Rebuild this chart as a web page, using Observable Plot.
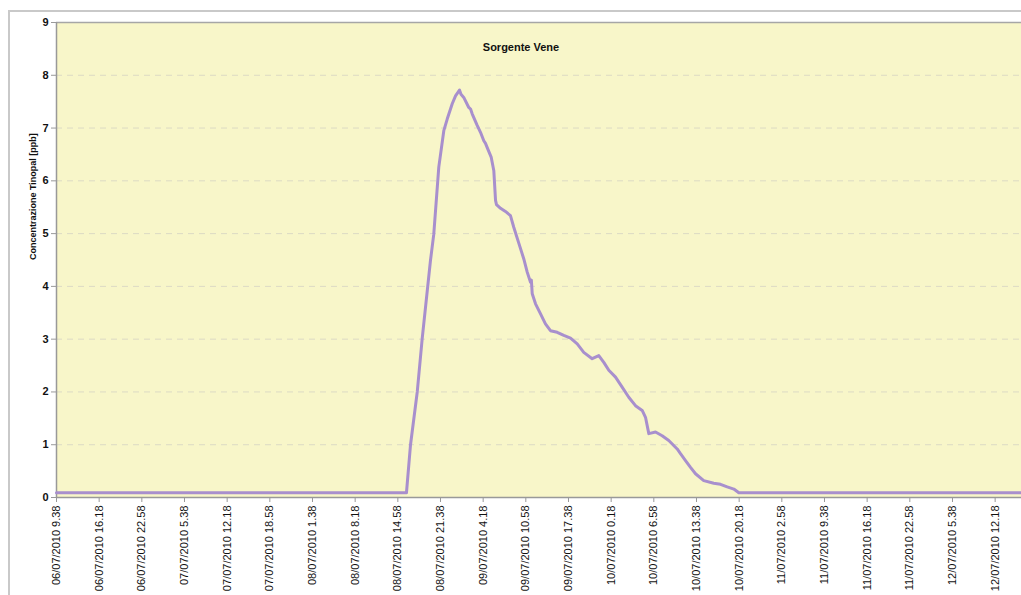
<!DOCTYPE html>
<html>
<head>
<meta charset="utf-8">
<script src="https://cdn.jsdelivr.net/npm/d3@7"></script>
<script src="https://cdn.jsdelivr.net/npm/@observablehq/plot@0.6"></script>
<style>
  html, body { margin: 0; padding: 0; background: #fff; overflow: hidden; }
  #wrap { position: relative; width: 1021px; height: 595px; }
  #border { position: absolute; left: 8px; top: 10px; width: 1100px; height: 700px;
            border-top: 2px solid #c9c9c9; border-left: 2px solid #c9c9c9; pointer-events: none; }
  svg { position: absolute; left: 0; top: 0; }
</style>
</head>
<body>
<div id="wrap"><div id="border"></div></div>
<script>
// ---- data ----
const title = "Sorgente Vene";
const yLabel = "Concentrazione Tinopal [ppb]";

const times = [
  "2010-07-06 09:38","2010-07-08 16:19","2010-07-08 16:57","2010-07-08 18:00","2010-07-08 18:46",
  "2010-07-08 20:04","2010-07-08 20:35","2010-07-08 21:22","2010-07-08 22:09",
  "2010-07-08 22:41","2010-07-08 23:28","2010-07-08 23:59","2010-07-09 00:36","2010-07-09 00:50",
  "2010-07-09 01:16","2010-07-09 02:03","2010-07-09 02:20","2010-07-09 02:35","2010-07-09 03:22",
  "2010-07-09 03:53","2010-07-09 04:24","2010-07-09 04:40","2010-07-09 04:56","2010-07-09 05:33",
  "2010-07-09 05:58","2010-07-09 06:14","2010-07-09 06:23","2010-07-09 07:01","2010-07-09 07:47",
  "2010-07-09 08:34","2010-07-09 09:05","2010-07-09 09:52","2010-07-09 10:39","2010-07-09 11:11",
  "2010-07-09 11:42","2010-07-09 11:50","2010-07-09 11:58","2010-07-09 12:29","2010-07-09 13:16",
  "2010-07-09 14:02","2010-07-09 14:49","2010-07-09 15:52","2010-07-09 16:54","2010-07-09 17:57",
  "2010-07-09 19:00","2010-07-09 20:01","2010-07-09 21:20","2010-07-09 22:22","2010-07-09 23:09",
  "2010-07-09 23:56","2010-07-10 00:59","2010-07-10 02:01","2010-07-10 03:03","2010-07-10 04:06",
  "2010-07-10 05:09","2010-07-10 05:40","2010-07-10 06:11","2010-07-10 07:14","2010-07-10 08:16",
  "2010-07-10 09:18","2010-07-10 10:37","2010-07-10 11:08","2010-07-10 11:55","2010-07-10 12:42",
  "2010-07-10 13:29","2010-07-10 14:46","2010-07-10 16:20","2010-07-10 17:23","2010-07-10 18:26",
  "2010-07-10 19:28","2010-07-10 20:15","2010-07-12 16:25"
];
const values = [
  0.09,0.09,1.00,2.00,3.00,
  4.49,4.99,6.26,6.95,
  7.17,7.46,7.61,7.72,7.64,
  7.58,7.39,7.36,7.27,7.05,
  6.92,6.76,6.71,6.63,6.45,
  6.19,5.63,5.55,5.48,5.42,
  5.34,5.12,4.82,4.52,4.27,
  4.08,4.12,3.86,3.67,3.48,
  3.29,3.16,3.13,3.07,3.02,
  2.91,2.75,2.63,2.69,2.56,
  2.41,2.28,2.09,1.90,1.74,
  1.65,1.52,1.21,1.24,1.17,
  1.08,0.92,0.83,0.70,0.57,
  0.45,0.32,0.27,0.25,0.20,
  0.16,0.09,0.09
];
const xTickLabels = [
  "06/07/2010 9.38","06/07/2010 16.18","06/07/2010 22.58","07/07/2010 5.38","07/07/2010 12.18",
  "07/07/2010 18.58","08/07/2010 1.38","08/07/2010 8.18","08/07/2010 14.58","08/07/2010 21.38",
  "09/07/2010 4.18","09/07/2010 10.58","09/07/2010 17.38","10/07/2010 0.18","10/07/2010 6.58",
  "10/07/2010 13.38","10/07/2010 20.18","11/07/2010 2.58","11/07/2010 9.38","11/07/2010 16.18",
  "11/07/2010 22.58","12/07/2010 5.38","12/07/2010 12.18"
];
const yTicks = [0,1,2,3,4,5,6,7,8,9];
const xDomainLabels = ["06/07/2010 9.38", "12/07/2010 16.25"];

// ---- build ----
const parseT = d3.timeParse("%Y-%m-%d %H:%M");
const parseL = d3.timeParse("%d/%m/%Y %H.%M");
const data = times.map((t, i) => ({date: parseT(t), value: values[i]}));
const tickDates = xTickLabels.map(parseL);
const labelFor = d => xTickLabels[tickDates.findIndex(t => +t === +d)];

const font = "'Liberation Sans', Arial, sans-serif";
const chart = Plot.plot({
  width: 1021,
  height: 595,
  marginLeft: 56,
  marginRight: 0,
  marginTop: 22,
  marginBottom: 98,
  style: {fontFamily: font, background: "transparent", overflow: "visible"},
  x: {type: "time", domain: xDomainLabels.map(parseL)},
  y: {domain: [0, 9]},
  marks: [
    Plot.frame({fill: "#f8f6c9", stroke: "none"}),
    Plot.gridY(yTicks.filter(v => v > 0 && v < 9), {stroke: "#dcdac4", strokeOpacity: 1, strokeDasharray: "6,5", strokeWidth: 1}),
    Plot.ruleY([9], {stroke: "#a6a6a6", strokeWidth: 1.5}),
    Plot.ruleY([0], {stroke: "#999", strokeWidth: 1.5}),
    Plot.ruleX([parseL(xDomainLabels[0])], {stroke: "#999", strokeWidth: 1.5}),
    Plot.line(data, {x: "date", y: "value", stroke: "#a88fcd", strokeWidth: 3, curve: "linear"}),
    Plot.axisY(yTicks, {tickSize: 5, tickPadding: 3, stroke: "#999", fontSize: 11, fontWeight: "bold", fill: "#111",
      tickFormat: d => String(d), label: null}),
    Plot.axisX(tickDates, {tickSize: 5, tickPadding: 3, stroke: "#999", tickRotate: -90, textAnchor: "end",
      tickFormat: labelFor, fontSize: 11, fill: "#111", label: null}),
    Plot.text([yLabel], {frameAnchor: "left", rotate: -90, dx: -23, fontSize: 9, fontWeight: "bold", fill: "#111"}),
    Plot.text([title], {frameAnchor: "top", dx: -18, dy: 21, fontSize: 11, fontWeight: "bold", fill: "#111"})
  ]
});
document.getElementById("wrap").prepend(chart);
</script>
</body>
</html>
